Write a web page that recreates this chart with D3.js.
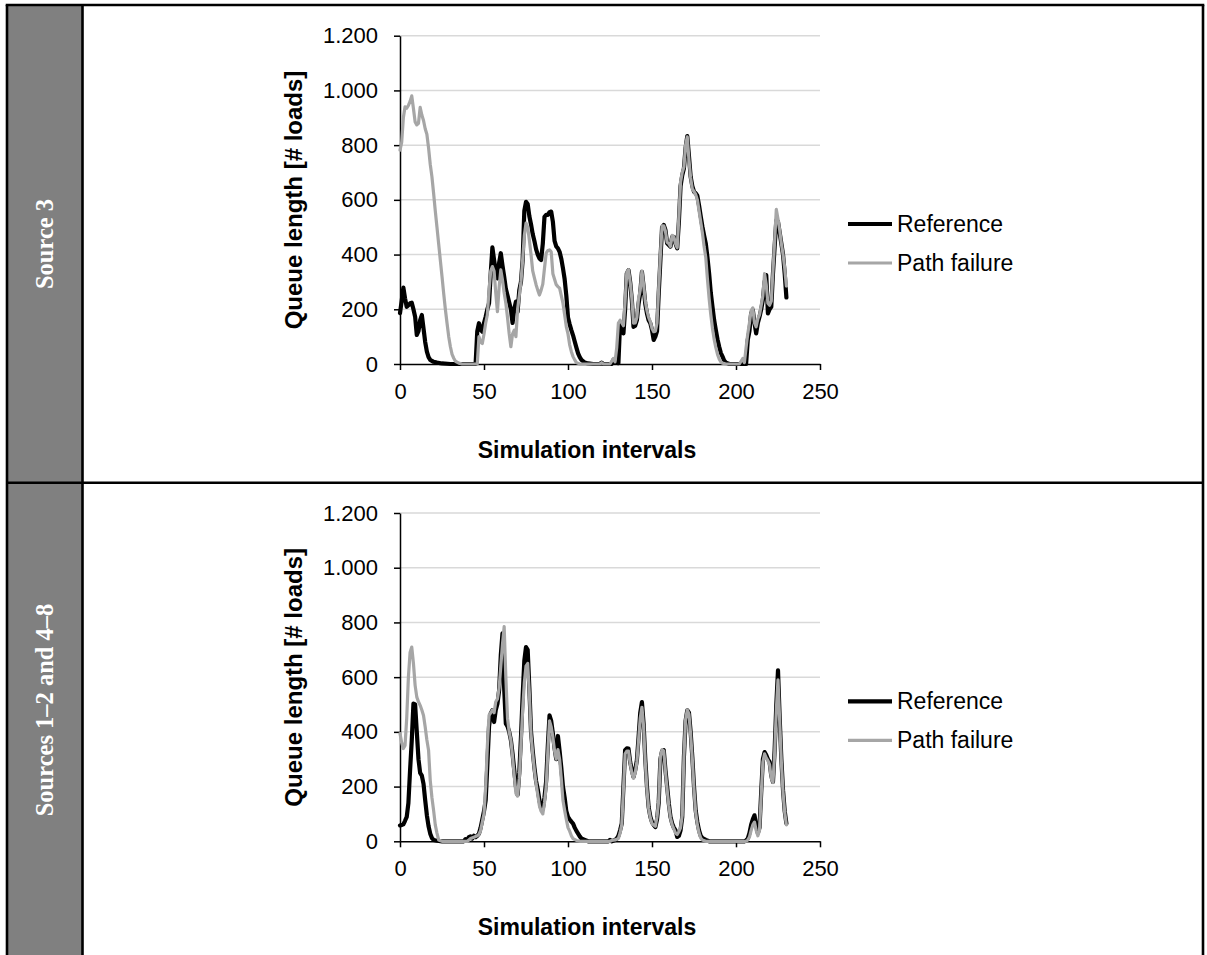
<!DOCTYPE html>
<html>
<head>
<meta charset="utf-8">
<script src="https://cdn.jsdelivr.net/npm/d3@7"></script>
<style>
  body { margin: 0; background: #fff; }
  svg { display: block; }
</style>
</head>
<body>
<svg id="chart" width="1207" height="955"></svg>
<script>
// Axis ticks and legend names
const xTicks = [0, 50, 100, 150, 200, 250];
const yTicks = [0, 200, 400, 600, 800, 1000, 1200];
const seriesNames = ["Reference", "Path failure"];
const rowLabels = ["Source 3", "Sources 1–2 and 4–8"];

// Queue length per simulation interval, [interval, loads]
const source3Reference = [
  [0,186],[1,230],[2,279],[3,240],[4,209],[5,215],[6,222],[7,224],[8,200],[9,173],[10,106],[11,120],[12,160],[13,179],[14,130],[15,80],[16,45],[17,25],[18,15],[20,8],[22,5],[25,2],[30,0],[45,0],
  [46,120],[47,149],[48,125],[49,118],[50,150],[51,173],[52,200],[53,222],[54,330],[55,426],[56,380],[57,340],[58,313],[59,370],[60,405],[61,360],[62,320],[63,275],[64,250],[65,225],[66,200],[67,150],[68,200],[69,228],[70,191],
  [71,270],[72,300],[73,380],[74,560],[75,593],[76,585],[77,540],[78,510],[79,475],[80,450],[81,420],[82,400],[83,386],[84,380],[85,440],[86,538],[87,545],[88,545],[89,555],[90,557],[91,520],[92,450],[93,430],[94,423],[95,410],
  [96,385],[97,350],[98,310],[99,250],[100,170],[101,145],[102,124],[103,105],[104,82],[105,60],[106,39],[107,25],[108,15],[110,5],[112,2],[115,0],[119,0],[120,5],[121,0],[126,0],[127,15],[128,5],[130,3],
  [131,149],[132,145],[133,112],[134,200],[135,331],[136,343],[137,300],[138,234],[139,136],[140,140],[141,160],[142,220],[143,258],[144,337],[145,283],[146,220],[147,185],[148,160],[149,149],[150,124],
  [151,88],[152,100],[153,120],[154,258],[155,380],[156,500],[157,508],[158,490],[159,441],[160,435],[161,429],[162,465],[163,465],[164,440],[165,423],[166,520],[167,650],[168,690],[169,715],[170,790],
  [171,833],[172,760],[173,685],[174,650],[175,630],[176,624],[177,615],[178,580],[179,540],[180,502],[181,470],[182,441],[183,390],[184,331],[185,260],[186,209],[187,160],[188,124],[189,90],[190,63],
  [191,40],[192,27],[193,12],[194,5],[196,0],[206,0],[207,88],[208,120],[209,185],[210,198],[211,150],[212,112],[213,150],[214,173],[215,200],[216,234],[217,300],[218,325],[219,185],[220,200],
  [221,209],[222,330],[223,429],[224,525],[225,520],[226,480],[227,440],[228,400],[229,330],[230,243]
];
const source3PathFailure = [
  [0,782],[1,810],[2,900],[3,940],[4,935],[5,945],[6,960],[7,980],[8,934],[9,885],[10,874],[11,880],[12,938],[13,910],[14,890],[15,860],[16,840],[17,790],[18,730],[19,685],[20,624],
  [21,560],[22,500],[23,440],[24,380],[25,320],[26,258],[27,200],[28,149],[29,100],[30,63],[31,35],[32,21],[33,10],[35,3],[37,0],[46,0],
  [47,100],[48,80],[49,75],[50,110],[51,150],[52,180],[53,270],[54,340],[55,356],[56,340],[57,260],[58,191],[59,280],[60,344],[61,307],[62,260],[63,222],[64,170],[65,110],[66,63],[67,110],[68,124],[69,100],[70,200],
  [71,250],[72,300],[73,380],[74,470],[75,515],[76,500],[77,453],[78,400],[79,340],[80,315],[81,290],[82,270],[83,252],[84,270],[85,292],[86,350],[87,405],[88,415],[89,417],[90,410],
  [91,330],[92,310],[93,290],[94,283],[95,277],[96,250],[97,222],[98,180],[99,136],[100,110],[101,70],[102,45],[103,27],[104,15],[105,5],[107,0],[119,0],[120,5],[121,0],[125,0],[126,10],[127,20],[128,8],
  [129,60],[130,150],[131,160],[132,150],[133,140],[134,230],[135,335],[136,345],[137,300],[138,240],[139,149],[140,150],[141,170],[142,240],[143,270],[144,340],[145,290],[146,230],[147,195],[148,170],[149,155],[150,130],
  [151,118],[152,120],[153,150],[154,280],[155,400],[156,505],[157,505],[158,485],[159,445],[160,440],[161,430],[162,470],[163,465],[164,440],[165,425],[166,540],[167,665],[168,700],[169,720],[170,800],
  [171,830],[172,745],[173,680],[174,640],[175,630],[176,620],[177,600],[178,560],[179,520],[180,480],[181,430],[182,390],[183,310],[184,240],[185,180],[186,130],[187,90],[188,60],[189,35],[190,18],
  [191,8],[192,3],[194,0],[202,0],[203,10],[204,20],[205,5],[206,60],[207,110],[208,150],[209,195],[210,205],[211,150],[212,136],[213,165],[214,180],[215,215],[216,250],[217,330],[218,290],[219,222],[220,215],
  [221,230],[222,340],[223,450],[224,565],[225,530],[226,490],[227,440],[228,400],[229,350],[230,285]
];
const otherSourcesReference = [
  [0,58],[1,60],[2,62],[3,75],[4,89],[5,140],[6,260],[7,369],[8,503],[9,500],[10,400],[11,300],[12,250],[13,240],[14,210],[15,150],[16,95],[17,55],[18,28],[19,12],[20,5],[22,2],[25,0],[38,0],
  [39,8],[40,5],[41,15],[42,18],[43,10],[44,20],[45,15],[46,20],[47,28],[48,50],[49,80],[50,110],[51,150],[52,280],[53,420],[54,467],[55,479],[56,436],[57,480],[58,503],[59,552],[60,680],
  [61,760],[62,560],[63,430],[64,420],[65,400],[66,370],[67,320],[68,260],[69,200],[70,170],[71,250],[72,380],[73,530],[74,660],[75,710],[76,700],[77,560],[78,400],[79,330],[80,270],
  [81,220],[82,190],[83,150],[84,120],[85,118],[86,160],[87,220],[88,350],[89,460],[90,440],[91,394],[92,340],[93,300],[94,385],[95,330],[96,270],[97,200],[98,160],[99,110],[100,89],
  [101,80],[102,72],[103,65],[104,50],[105,38],[106,28],[107,18],[108,10],[110,5],[112,0],[124,0],[125,5],[126,0],[128,5],[129,10],[130,20],
  [131,40],[132,65],[133,200],[134,333],[135,340],[136,339],[137,290],[138,260],[139,235],[140,260],[141,296],[142,380],[143,470],[144,509],[145,430],[146,300],[147,200],[148,125],[149,90],[150,70],
  [151,60],[152,52],[153,80],[154,142],[155,300],[156,330],[157,333],[158,260],[159,200],[160,138],[161,90],[162,65],[163,50],[164,40],[165,16],[166,20],[167,40],[168,89],[169,308],[170,440],
  [171,479],[172,470],[173,400],[174,308],[175,200],[176,113],[177,70],[178,40],[179,20],[180,12],[182,5],[184,0],[205,0],[206,3],[207,10],[208,30],[209,60],[210,80],
  [211,95],[212,60],[213,30],[214,50],[215,180],[216,300],[217,326],[218,315],[219,300],[220,290],[221,240],[222,217],[223,333],[224,500],[225,625],[226,450],[227,300],[228,186],[229,110],[230,65]
];
const otherSourcesPathFailure = [
  [0,394],[1,360],[2,339],[3,350],[4,450],[5,600],[6,690],[7,710],[8,650],[9,570],[10,527],[11,510],[12,497],[13,480],[14,460],[15,418],[16,370],[17,333],[18,223],[19,160],[20,113],
  [21,60],[22,30],[23,5],[25,0],[40,0],[41,5],[42,10],[44,15],[46,20],[47,25],[48,40],[49,70],[50,100],
  [51,200],[52,350],[53,460],[54,470],[55,480],[56,470],[57,510],[58,520],[59,560],[60,640],[61,720],[62,785],[63,600],[64,450],[65,400],[66,370],[67,310],[68,240],[69,175],[70,165],
  [71,230],[72,350],[73,480],[74,580],[75,640],[76,650],[77,540],[78,390],[79,320],[80,260],[81,210],[82,170],[83,130],[84,110],[85,100],[86,140],[87,200],[88,330],[89,440],[90,418],
  [91,380],[92,330],[93,300],[94,335],[95,300],[96,230],[97,150],[98,113],[99,80],[100,50],[101,37],[102,20],[103,10],[105,3],[107,0],[125,0],[126,3],[128,5],[130,10],
  [131,30],[132,60],[133,190],[134,320],[135,330],[136,330],[137,285],[138,250],[139,230],[140,250],[141,290],[142,370],[143,450],[144,490],[145,420],[146,290],[147,190],[148,120],[149,85],[150,65],
  [151,60],[152,55],[153,90],[154,150],[155,310],[156,335],[157,330],[158,255],[159,190],[160,130],[161,85],[162,60],[163,45],[164,30],[165,25],[166,35],[167,50],[168,95],[169,310],[170,445],
  [171,480],[172,465],[173,390],[174,300],[175,190],[176,105],[177,60],[178,30],[179,12],[180,5],[182,0],[206,0],[207,5],[208,15],[209,40],[210,60],
  [211,70],[212,40],[213,20],[214,40],[215,170],[216,290],[217,320],[218,305],[219,295],[220,280],[221,230],[222,215],[223,320],[224,480],[225,590],[226,440],[227,290],[228,180],[229,105],[230,60]
];

const panels = [
  { label: rowLabels[0], series: [source3Reference, source3PathFailure] },
  { label: rowLabels[1], series: [otherSourcesReference, otherSourcesPathFailure] }
];

const W = 1207, H = 955;
const svg = d3.select("#chart");
const sansFont = "'Liberation Sans', Arial, Helvetica, sans-serif";
const serifFont = "'Liberation Serif', 'Times New Roman', serif";
const lineColors = ["#000000", "#a6a6a6"];
const lineWidths = [4.2, 3.2];

// German-style thousands separator: 1.200
const deLocale = d3.formatLocale({ decimal: ",", thousands: ".", grouping: [3], currency: ["", " €"] });
const fmt = deLocale.format(",d");

// Table frame
const tableLeft = 7, tableTop = 5, tableRight = 1203, labelColRight = 82.5, rowSplit = 482.7;
svg.append("rect")
  .attr("x", tableLeft).attr("y", tableTop)
  .attr("width", labelColRight - tableLeft).attr("height", H - tableTop + 10)
  .attr("fill", "#808080");

const frame = svg.append("g").attr("stroke", "#000").attr("stroke-width", 2.6).attr("fill", "none");
frame.append("line").attr("x1", tableLeft - 1.3).attr("x2", tableRight + 1.3).attr("y1", tableTop).attr("y2", tableTop);
frame.append("line").attr("x1", tableLeft).attr("x2", tableLeft).attr("y1", tableTop).attr("y2", H + 5);
frame.append("line").attr("x1", labelColRight).attr("x2", labelColRight).attr("y1", tableTop).attr("y2", H + 5);
frame.append("line").attr("x1", tableRight).attr("x2", tableRight).attr("y1", tableTop).attr("y2", H + 5);
frame.append("line").attr("x1", tableLeft).attr("x2", tableRight).attr("y1", rowSplit).attr("y2", rowSplit);

// Row labels in the grey column
const rowCenters = [244, 710];
panels.forEach((p, i) => {
  svg.append("text")
    .attr("transform", `translate(53,${rowCenters[i]}) rotate(-90)`)
    .attr("text-anchor", "middle")
    .attr("font-family", serifFont)
    .attr("font-weight", "bold")
    .attr("font-size", 24.5)
    .attr("fill", "#fff")
    .text(p.label);
});

// One line chart per table row
const panelOffsets = [0, 477.3];
panels.forEach((p, i) => {
  const oy = panelOffsets[i];
  const x = d3.scaleLinear().domain([0, 250]).range([400, 820]);
  const y = d3.scaleLinear().domain([0, 1200]).range([oy + 364, oy + 35.7]);
  const g = svg.append("g");

  // gridlines
  g.append("g").selectAll("line")
    .data(yTicks.filter(d => d > 0))
    .join("line")
    .attr("x1", x(0)).attr("x2", x(250))
    .attr("y1", d => y(d)).attr("y2", d => y(d))
    .attr("stroke", "#d9d9d9").attr("stroke-width", 1.5);

  // axes
  const yAxis = g.append("g")
    .attr("transform", `translate(${x(0)},0)`)
    .call(d3.axisLeft(y).tickValues(yTicks).tickFormat(fmt).tickSize(6).tickSizeOuter(0).tickPadding(16));
  const xAxis = g.append("g")
    .attr("transform", `translate(0,${y(0)})`)
    .call(d3.axisBottom(x).tickValues(xTicks).tickFormat(d3.format("d")).tickSize(6).tickSizeOuter(0).tickPadding(13.5));
  [yAxis, xAxis].forEach(a => {
    a.select(".domain").attr("stroke", "#000").attr("stroke-width", 1.5);
    a.selectAll(".tick line").attr("stroke", "#000").attr("stroke-width", 1.5);
    a.selectAll(".tick text").attr("font-family", sansFont).attr("font-size", 22).attr("fill", "#000");
  });

  // axis titles
  g.append("text")
    .attr("x", (x(0) + x(250)) / 2 - 23).attr("y", oy + 458)
    .attr("text-anchor", "middle")
    .attr("font-family", sansFont).attr("font-weight", "bold").attr("font-size", 23)
    .text("Simulation intervals");
  g.append("text")
    .attr("transform", `translate(302,${oy + 200}) rotate(-90)`)
    .attr("text-anchor", "middle")
    .attr("font-family", sansFont).attr("font-weight", "bold").attr("font-size", 24)
    .text("Queue length [# loads]");

  // series lines: reference first, path failure on top
  const line = d3.line().x(d => x(d[0])).y(d => y(d[1])).curve(d3.curveLinear);
  p.series.forEach((s, k) => {
    g.append("path")
      .datum(s)
      .attr("d", line)
      .attr("fill", "none")
      .attr("stroke", lineColors[k])
      .attr("stroke-width", lineWidths[k])
      .attr("stroke-linejoin", "round")
      .attr("stroke-linecap", "round");
  });

  // legend
  const legendY = [oy + 224, oy + 263];
  seriesNames.forEach((name, k) => {
    g.append("line")
      .attr("x1", 848).attr("x2", 892)
      .attr("y1", legendY[k]).attr("y2", legendY[k])
      .attr("stroke", lineColors[k]).attr("stroke-width", lineWidths[k]);
    g.append("text")
      .attr("x", 897).attr("y", legendY[k] + 8)
      .attr("font-family", sansFont).attr("font-size", 23)
      .text(name);
  });
});
</script>
</body>
</html>
